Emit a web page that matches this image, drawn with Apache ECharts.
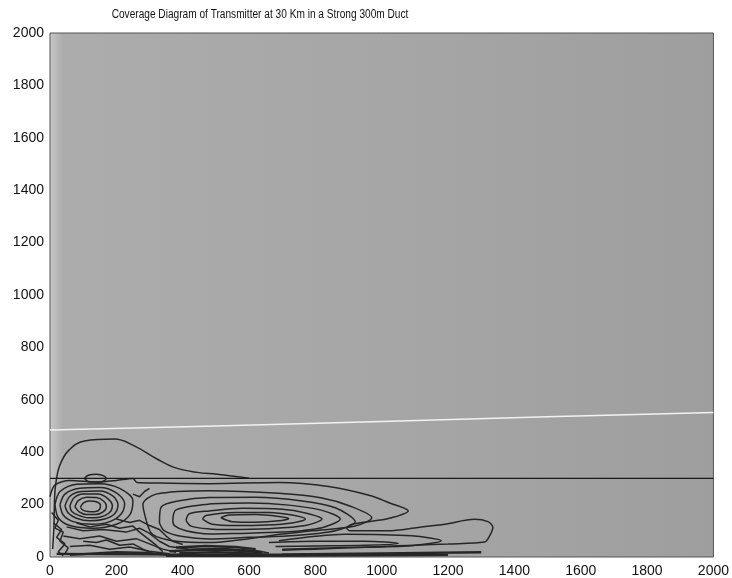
<!DOCTYPE html>
<html><head><meta charset="utf-8">
<script src="https://cdn.jsdelivr.net/npm/echarts@6/dist/echarts.min.js"></script>
<style>html,body{margin:0;padding:0;background:#fff}#c{width:732px;height:578px}</style>
</head><body><div id="c"></div>
<script>
const titleText = 'Coverage Diagram of Transmitter at 30 Km in a Strong 300m Duct';
const xTicks = [0,200,400,600,800,1000,1200,1400,1600,1800,2000];
const yTicks = [0,200,400,600,800,1000,1200,1400,1600,1800,2000];

// duct top (black) and white reference line
const ductLine = [[0,300],[2000,300]];
const whiteLine = [[0,485],[500,500],[1000,517],[1500,535],[2000,552]];

// contour polylines [range, height]
const contourOuter = [[8,30],[12,120],[14,230],[18,285],[29,348],[55,405],[104,443],[194,450],[254,424],[324,373],[374,342],[444,323],[504,316],[600,301]];
const contourC2 = [[0,230],[15,275],[60,292],[140,286],[200,292],[250,300],[262,284],[330,282],[480,280],[690,284],[840,269],[970,233],[1020,208],[1080,176],[1030,150],[980,138],[910,125],[895,110],[905,100],[1020,100],[1110,113],[1190,125],[1280,144],[1320,135],[1335,114],[1325,80],[1310,57],[1200,50],[1100,45],[1000,40],[900,35],[800,30],[700,26]];
const contourC3 = [[290,140],[280,200],[320,240],[480,253],[690,243],[820,225],[910,192],[970,150],[920,118],[790,100],[700,88],[600,70],[480,55],[380,60],[310,85],[290,140]];
const contourC4 = [[330,130],[335,190],[390,215],[480,227],[620,228],[760,214],[860,188],[920,135],[860,100],[740,82],[600,75],[480,69],[400,78],[345,100],[330,130]];
const contourC5 = [[370,140],[380,180],[480,202],[600,206],[720,198],[820,178],[875,145],[820,112],[700,95],[560,90],[480,88],[410,100],[375,120],[370,140]];
const contourC6 = [[410,140],[420,165],[480,176],[580,186],[700,182],[770,168],[820,145],[770,120],[660,108],[540,105],[480,107],[425,118],[410,140]];
const contourC7 = [[460,145],[470,158],[560,170],[660,170],[730,160],[770,145],[730,130],[650,122],[560,120],[490,125],[460,145]];
const contourC8 = [[515,150],[540,160],[620,162],[690,155],[720,147],[690,138],[620,133],[550,135],[515,150]];
const contourLow1 = [[690,62],[890,87],[1090,81],[1180,62],[1090,43],[890,36],[700,30]];
const contourLow2 = [[660,55],[800,60],[950,60],[1050,52],[950,45],[800,42],[680,40]];
const ductLobe = [[104,300],[115,312],[140,316],[165,308],[169,298],[150,286],[120,286],[104,300]];

// near-source lobe rings
const ringA = [[15,200],[30,250],[80,278],[150,280],[210,262],[250,215],[240,160],[200,125],[130,110],[60,120],[25,150],[15,200]];
const ringB = [[30,200],[45,240],[90,262],[150,265],[200,245],[225,205],[215,165],[180,135],[125,125],[70,135],[40,160],[30,200]];
const ringC = [[45,195],[60,232],[95,250],[150,252],[190,232],[205,200],[195,165],[165,145],[120,138],[80,148],[55,168],[45,195]];
const ringD = [[60,195],[72,225],[100,240],[145,240],[175,222],[188,195],[178,168],[150,152],[115,150],[85,160],[65,175],[60,195]];
const ringE = [[75,192],[85,215],[110,228],[140,227],[163,212],[170,192],[160,172],[138,162],[110,162],[88,172],[75,192]];
const ringF = [[92,190],[100,206],[118,214],[140,211],[152,198],[150,182],[135,173],[112,174],[97,181],[92,190]];

// wavy contours near the ground
const waveA = [[10,130],[35,105],[20,75],[45,50],[25,20],[40,5]];
const waveB = [[50,115],[100,100],[160,105],[230,95],[270,110],[300,90],[330,60],[360,40],[420,30],[520,32],[620,25],[660,15]];
const waveC = [[40,80],[90,70],[150,80],[200,60],[260,70],[300,50],[340,30],[380,18]];
const waveD = [[60,40],[120,45],[180,30],[240,38],[300,22],[360,12]];
const waveE = [[5,170],[25,140],[15,110],[40,95],[30,60],[55,35],[45,12]];
const waveF = [[200,145],[240,132],[270,140],[300,120],[330,105],[350,80],[370,60],[400,48]];
const waveG = [[80,130],[120,115],[170,125],[210,110],[250,118],[270,95],[290,75],[320,45],[340,20]];
const waveH = [[100,60],[140,55],[170,65],[210,45],[250,50],[280,30],[310,12]];
const waveI = [[250,240],[270,230],[285,250],[300,262]];
const groundA = [[20,12],[300,10],[500,8],[700,10],[1000,14],[1300,18]];
const groundB = [[360,22],[450,28],[550,26],[640,18]];
const groundC = [[380,36],[470,42],[560,38],[620,30]];
const groundD = [[350,5],[650,5],[1200,8]];
const groundE = [[390,15],[500,18],[600,14],[660,8]];
const groundF = [[60,8],[200,18],[300,15],[360,8]];

const contours = [contourOuter, contourC2, contourC3, contourC4, contourC5, contourC6, contourC7, contourC8,
  contourLow1, contourLow2, ductLobe, ringA, ringB, ringC, ringD, ringE, ringF,
  waveA, waveB, waveC, waveD, waveE, waveF, waveG, waveH, waveI,
  groundA, groundB, groundC, groundD, groundE, groundF];

const chart = echarts.init(document.getElementById('c'), null, {renderer:'canvas'});
const series = contours.map(function(d, i){
  return {type:'line', data:d, showSymbol:false, silent:true, smooth:(i===0?0.4:(i>=17?0:0.3)),
    lineStyle:{color:'#262626', width:(i>=26?2.4:1.5)}, z:3};
});
series.push({type:'line', data:ductLine, showSymbol:false, silent:true, lineStyle:{color:'#1a1a1a', width:1.4}, z:4});
series.push({type:'line', data:whiteLine, showSymbol:false, silent:true, lineStyle:{color:'#f2f2f2', width:1.5}, z:4});

chart.setOption({
  animation:false,
  backgroundColor:'#ffffff',
  graphic:[{type:'text', x:260, y:15, scaleX:0.81, style:{text:titleText, x:0, y:0, textAlign:'center', textVerticalAlign:'middle',
    font:'12.5px "Liberation Sans", Arial', fill:'#111'}}],
  grid:{left:50, right:15, top:33, bottom:20, show:true, borderColor:'#555', borderWidth:1,
    backgroundColor:{type:'linear', x:0, y:0, x2:1, y2:0, colorStops:[
      {offset:0, color:'#c8c8c8'},{offset:0.02, color:'#acacac'},{offset:0.5, color:'#a6a6a6'},{offset:1, color:'#9e9e9e'}]}},
  xAxis:{type:'value', min:0, max:2000, interval:200,
    axisLine:{show:false}, axisTick:{show:false}, splitLine:{show:false},
    axisLabel:{fontSize:14, color:'#111', fontFamily:'Liberation Sans', margin:7,
      formatter:function(v){return xTicks.indexOf(v)>=0 ? String(v) : '';}}},
  yAxis:{type:'value', min:0, max:2000, interval:200,
    axisLine:{show:false}, axisTick:{show:false}, splitLine:{show:false},
    axisLabel:{fontSize:14, color:'#111', fontFamily:'Liberation Sans', margin:6,
      formatter:function(v){return yTicks.indexOf(v)>=0 ? String(v) : '';}}},
  series:series
});
</script></body></html>
